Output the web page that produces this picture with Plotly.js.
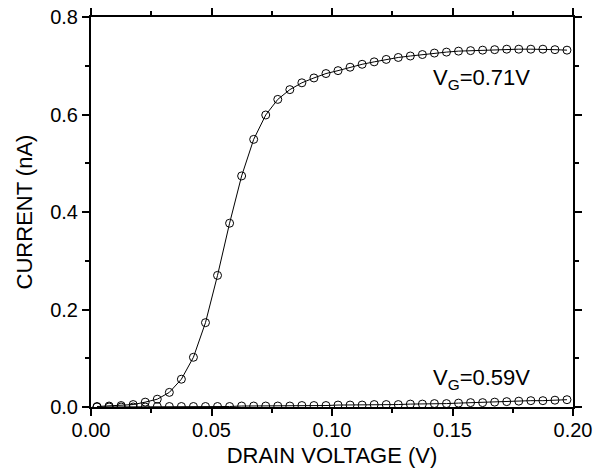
<!DOCTYPE html>
<html>
<head>
<meta charset="utf-8">
<script src="https://cdn.plot.ly/plotly-3.0.1.min.js"></script>
<style>html,body{margin:0;padding:0;background:#fff;}#chart{width:602px;height:472px;}</style>
</head>
<body>
<div id="chart"></div>
<script>
// Drain voltage (V)
var drainVoltage = [0.0025,0.0075,0.0125,0.0175,0.0225,0.0275,0.0325,0.0375,0.0425,0.0475,
  0.0525,0.0575,0.0625,0.0675,0.0725,0.0775,0.0825,0.0875,0.0925,0.0975,
  0.1025,0.1075,0.1125,0.1175,0.1225,0.1275,0.1325,0.1375,0.1425,0.1475,
  0.1525,0.1575,0.1625,0.1675,0.1725,0.1775,0.1825,0.1875,0.1925,0.1975];
// Current (nA) at VG = 0.71 V
var currentVG071 = [0.001,0.002,0.003,0.005,0.010,0.016,0.030,0.057,0.102,0.173,
  0.270,0.377,0.474,0.549,0.599,0.631,0.651,0.665,0.675,0.684,
  0.690,0.697,0.703,0.708,0.713,0.717,0.720,0.723,0.726,0.728,
  0.730,0.731,0.732,0.733,0.734,0.734,0.734,0.734,0.733,0.732];
// Current (nA) at VG = 0.59 V
var currentVG059 = [0.000,0.000,0.000,0.000,0.000,0.001,0.001,0.001,0.001,0.001,
  0.001,0.001,0.002,0.002,0.002,0.002,0.002,0.003,0.003,0.003,
  0.004,0.004,0.004,0.005,0.005,0.005,0.006,0.006,0.007,0.007,
  0.008,0.009,0.009,0.010,0.011,0.012,0.013,0.013,0.014,0.015];
var xTickVals = [0, 0.05, 0.10, 0.15, 0.20];
var xTickText = ["0.00", "0.05", "0.10", "0.15", "0.20"];
var yTickVals = [0, 0.2, 0.4, 0.6, 0.8];
var yTickText = ["0.0", "0.2", "0.4", "0.6", "0.8"];
var labels = ["V<sub>G</sub>=0.71V", "V<sub>G</sub>=0.59V"];

var FONT = "Arial, 'Liberation Sans', Helvetica, sans-serif";
var markerStyle = {symbol: "circle-open", size: 8, color: "#000", line: {width: 1, color: "#000"}};

var traces = [
  {x: drainVoltage, y: currentVG071, mode: "lines+markers", line: {color: "#000", width: 1}, marker: markerStyle, showlegend: false},
  {x: drainVoltage, y: currentVG059, mode: "lines+markers", line: {color: "#000", width: 1}, marker: markerStyle, showlegend: false}
];

var axisCommon = {
  showline: true, linecolor: "#000", linewidth: 2, mirror: "allticks",
  ticks: "outside", ticklen: 7, tickwidth: 2, tickcolor: "#000",
  showgrid: false, zeroline: false,
  tickfont: {family: FONT, size: 20, color: "#000"},
  minor: {ticks: "outside", ticklen: 4, tickwidth: 2, tickcolor: "#000", showgrid: false}
};

var layout = {
  width: 602, height: 472,
  margin: {l: 91, r: 29, t: 17, b: 65},
  paper_bgcolor: "#fff", plot_bgcolor: "#fff",
  font: {family: FONT, color: "#000"},
  xaxis: Object.assign({}, axisCommon, {
    range: [0, 0.2], tickmode: "array", tickvals: xTickVals, ticktext: xTickText,
    ticklabelstandoff: -3,
    minor: Object.assign({}, axisCommon.minor, {dtick: 0.025, tick0: 0}),
    title: {text: "DRAIN VOLTAGE (V)", font: {family: FONT, size: 22, color: "#000"}, standoff: 8}
  }),
  yaxis: Object.assign({}, axisCommon, {
    range: [0, 0.8], tickmode: "array", tickvals: yTickVals, ticktext: yTickText,
    minor: Object.assign({}, axisCommon.minor, {dtick: 0.1, tick0: 0}),
    title: {text: "CURRENT (nA)", font: {family: FONT, size: 22, color: "#000"}, standoff: 11}
  }),
  annotations: [
    {x: 0.162, y: 0.672, xref: "x", yref: "y", text: labels[0], showarrow: false,
     font: {family: FONT, size: 22, color: "#000"}, xanchor: "center", yanchor: "middle"},
    {x: 0.162, y: 0.058, xref: "x", yref: "y", text: labels[1], showarrow: false,
     font: {family: FONT, size: 22, color: "#000"}, xanchor: "center", yanchor: "middle"}
  ]
};

Plotly.newPlot("chart", traces, layout, {displayModeBar: false, staticPlot: true});
</script>
</body>
</html>
